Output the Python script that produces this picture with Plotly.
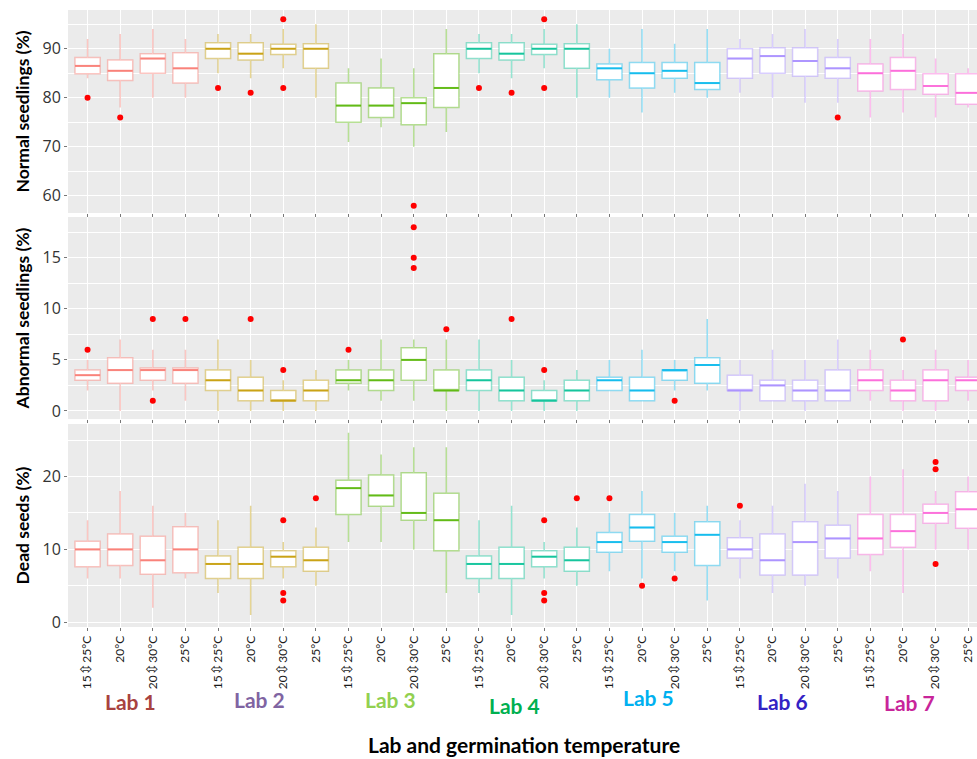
import plotly.graph_objects as go
from plotly.subplots import make_subplots

labs = ["Lab 1", "Lab 2", "Lab 3", "Lab 4", "Lab 5", "Lab 6", "Lab 7"]
temps = ["15<span style='font-size:15px'>⇳</span>25°C", "20°C",
         "20<span style='font-size:15px'>⇳</span>30°C", "25°C"]
tick_labels = temps * len(labs)

# ---- Normal seedlings (%) ----
ns_q3 = [88.2, 87.7, 89, 89.2, 91.2, 91.2, 90.9, 91, 83, 82, 80, 89, 91.2, 91.2, 90.9, 91,
         86.9, 87.2, 87.2, 87.2, 90, 90.2, 90.2, 88.2, 86.9, 88.2, 84.9, 84.9]
ns_med = [86.5, 85.5, 88, 86, 90, 89, 90, 90, 78.4, 78.4, 78.9, 82, 90, 89, 90, 90,
          86, 85, 85.5, 83, 88, 88.5, 87.5, 86, 85, 85.5, 82.4, 81]
ns_q1 = [84.9, 83.5, 85, 83, 88, 87.7, 88.8, 86, 75, 76, 74.5, 78, 88, 87.7, 88.8, 86,
         83.7, 82, 84, 81.7, 84, 85, 84.4, 84, 81.4, 81.7, 80.7, 78.7]
ns_hi = [92, 93, 94, 92, 93, 93, 94, 95, 86, 88, 86, 94, 93, 93, 94, 95,
         90, 94, 91, 94, 92, 93, 94, 92, 92, 93, 88, 86]
ns_lo = [84, 78, 80, 80, 85, 84, 86, 80, 71, 74, 70, 73, 85, 84, 86, 80,
         80, 77, 81, 80, 81, 80, 79, 79, 76, 77, 76, 78]
ns_out_x = [0, 1, 4, 5, 6, 6, 10, 12, 13, 14, 14, 23]
ns_out_y = [80, 76, 82, 81, 96, 82, 58, 82, 81, 96, 82, 76]

# ---- Abnormal seedlings (%) ----
ab_q3 = [4, 5.2, 4.2, 4.2, 4, 3.3, 2, 3, 4, 4, 6.2, 4, 4, 3.3, 2, 3,
         3.3, 3.3, 4, 5.2, 3.5, 3, 3, 4, 4, 3, 4, 3.3]
ab_med = [3.5, 4, 4, 4, 3, 2, 1, 2, 3, 3, 5, 2, 3, 2, 1, 2,
          3, 2, 4, 4.5, 2, 2.5, 2, 2, 3, 2, 3, 3]
ab_q1 = [3, 2.7, 3, 2.7, 2, 1, 1, 1, 2.7, 2, 3, 2, 2, 1, 1, 1,
         2, 1, 3, 2.7, 2, 1, 1, 1, 2, 1, 1, 2]
ab_hi = [5, 7, 6, 6, 7, 5, 3, 4, 5, 7, 7, 7, 7, 5, 3, 4,
         5, 6, 5, 9, 5, 6, 5, 7, 6, 4, 6, 5]
ab_lo = [2, 0, 2, 1, 0, 0, 0, 0, 2, 1, 1, 0, 0, 0, 0, 0,
         2, 1, 2, 2, 0, 1, 0, 1, 1, 0, 0, 1]
ab_out_x = [0, 2, 2, 3, 5, 6, 8, 10, 10, 10, 11, 13, 14, 18, 25]
ab_out_y = [6, 9, 1, 9, 9, 4, 6, 18, 15, 14, 8, 9, 4, 1, 7]

# ---- Dead seeds (%) ----
ds_q3 = [11.1, 12.1, 11.8, 13.1, 9.1, 10.3, 9.8, 10.3, 19.5, 20.2, 20.5, 17.7, 9.1, 10.3, 9.8, 10.3,
         12.3, 14.8, 11.8, 13.8, 11.6, 12.1, 13.8, 13.3, 14.8, 14.8, 16.2, 17.9]
ds_med = [10, 10, 8.5, 10, 8, 8, 9, 8.5, 18.4, 17.4, 15, 14, 8, 8, 9, 8.5,
          11, 13, 11, 12, 10, 8.5, 11, 11.5, 11.5, 12.5, 15, 15.5]
ds_q1 = [7.6, 7.8, 6.6, 6.8, 6, 6, 7.6, 7, 14.8, 15.9, 14, 9.8, 6, 6, 7.6, 7,
         9.6, 11.1, 9.6, 7.8, 8.8, 6.5, 6.5, 8.8, 9.3, 10.3, 13.6, 12.9]
ds_hi = [14, 18, 16, 15, 14, 16, 11, 13, 26, 23, 24, 24, 14, 16, 11, 13,
         15, 18, 15, 16, 14, 16, 19, 18, 20, 21, 18, 20]
ds_lo = [6, 6, 2, 6, 4, 1, 6, 5, 11, 11, 10, 4, 4, 1, 6, 5,
         7, 6, 7, 3, 6, 4, 5, 6, 7, 4, 10, 10]
ds_out_x = [6, 6, 6, 7, 14, 14, 14, 15, 16, 17, 18, 20, 26, 26, 26]
ds_out_y = [14, 4, 3, 17, 14, 4, 3, 17, 17, 5, 6, 16, 22, 21, 8]

box_rgb = [(248, 118, 109), (196, 154, 0), (83, 180, 0), (0, 192, 148),
           (0, 182, 235), (165, 138, 255), (251, 97, 215)]
lab_label_colors = ["#A8423F", "#8064A2", "#92D050", "#00B050", "#00B0F0", "#3322C4", "#C8259A"]

panels = [
    (ns_q1, ns_med, ns_q3, ns_lo, ns_hi, ns_out_x, ns_out_y),
    (ab_q1, ab_med, ab_q3, ab_lo, ab_hi, ab_out_x, ab_out_y),
    (ds_q1, ds_med, ds_q3, ds_lo, ds_hi, ds_out_x, ds_out_y),
]

fig = make_subplots(rows=3, cols=1, shared_xaxes=True, vertical_spacing=0.006)

BW = 0.77
for r, (q1, med, q3, lo, hi, ox, oy) in enumerate(panels, start=1):
    for k in range(len(labs)):
        idx = list(range(4 * k, 4 * k + 4))
        rr, gg, bb = box_rgb[k]
        fig.add_trace(go.Box(
            x=idx,
            q1=[q1[i] for i in idx], median=[med[i] for i in idx], q3=[q3[i] for i in idx],
            lowerfence=[lo[i] for i in idx], upperfence=[hi[i] for i in idx],
            width=BW, whiskerwidth=0, boxpoints=False,
            fillcolor="white",
            line=dict(color=f"rgba({rr},{gg},{bb},0.42)", width=1.5),
            showlegend=False, hoverinfo="skip"), row=r, col=1)
        mx, my = [], []
        for i in idx:
            mx += [i - BW / 2, i + BW / 2, None]
            my += [med[i], med[i], None]
        fig.add_trace(go.Scatter(
            x=mx, y=my, mode="lines",
            line=dict(color=f"rgba({rr},{gg},{bb},0.85)", width=2),
            showlegend=False, hoverinfo="skip"), row=r, col=1)
    fig.add_trace(go.Scatter(
        x=ox, y=oy, mode="markers",
        marker=dict(color="#FF0000", size=6),
        showlegend=False, hoverinfo="skip"), row=r, col=1)

tick_font = dict(family="Open Sans, Liberation Sans, sans-serif", size=16, color="#333333")
title_font = dict(family="Lato, Liberation Sans, sans-serif", size=17.5, color="black")

xcommon = dict(range=[-0.6, 27.27], tickmode="array", tickvals=list(range(28)),
               ticktext=tick_labels, showgrid=True, gridcolor="white", gridwidth=1.2,
               ticks="outside", ticklen=3, tickcolor="#777", zeroline=False,
               showline=False)
fig.update_xaxes(**xcommon)
fig.update_xaxes(showticklabels=False, row=1, col=1)
fig.update_xaxes(showticklabels=False, row=2, col=1)
fig.update_xaxes(showticklabels=True, tickangle=-90,
                 tickfont=dict(family="Lato, DejaVu Sans, sans-serif", size=12, color="#1a1a1a"),
                 row=3, col=1)

ycommon = dict(showgrid=True, gridcolor="white", gridwidth=1.2, zeroline=False,
               ticks="outside", ticklen=3, tickcolor="#777", tickfont=tick_font,
               title_font=title_font, title_standoff=8)
fig.update_yaxes(**ycommon)
fig.update_yaxes(range=[56.5, 97.9], tickvals=[60, 70, 80, 90],
                 minor=dict(tickvals=[65, 75, 85, 95], showgrid=True, gridcolor="white", gridwidth=0.6),
                 title_text="<b>Normal seedlings (%)</b>", row=1, col=1)
fig.update_yaxes(range=[-0.8, 19.0], tickvals=[0, 5, 10, 15],
                 minor=dict(tickvals=[2.5, 7.5, 12.5, 17.5], showgrid=True, gridcolor="white", gridwidth=0.6),
                 title_text="<b>Abnormal seedlings (%)</b>", row=2, col=1)
fig.update_yaxes(range=[-0.65, 27.2], tickvals=[0, 10, 20],
                 minor=dict(tickvals=[5, 15, 25], showgrid=True, gridcolor="white", gridwidth=0.6),
                 title_text="<b>Dead seeds (%)</b>", row=3, col=1)

fig.update_layout(
    yaxis=dict(domain=[0.671, 1.0]),
    yaxis2=dict(domain=[0.337, 0.6645]),
    yaxis3=dict(domain=[0.0, 0.329]),
)

lab_x = [1.32, 5.28, 9.3, 13.1, 17.2, 21.3, 25.2]
lab_y = [-0.120, -0.118, -0.118, -0.128, -0.115, -0.120, -0.123]
annotations = []
for name, col, xx, yy in zip(labs, lab_label_colors, lab_x, lab_y):
    annotations.append(dict(text=f"<b>{name}</b>", x=xx, xref="x3", y=yy, yref="paper",
                            showarrow=False, xanchor="center", yanchor="middle",
                            font=dict(family="Lato, Liberation Sans, sans-serif", size=21, color=col)))
annotations.append(dict(text="<b>Lab and germination temperature</b>", x=0.502, xref="paper",
                        y=-0.190, yref="paper", showarrow=False, xanchor="center", yanchor="middle",
                        font=dict(family="Lato, Liberation Sans, sans-serif", size=21, color="black")))

fig.update_layout(
    width=977, height=759,
    margin=dict(l=68, r=0, t=10, b=132),
    plot_bgcolor="#EBEBEB", paper_bgcolor="white",
    annotations=annotations,
    boxmode="overlay",
)

fig.write_html("out.html")
